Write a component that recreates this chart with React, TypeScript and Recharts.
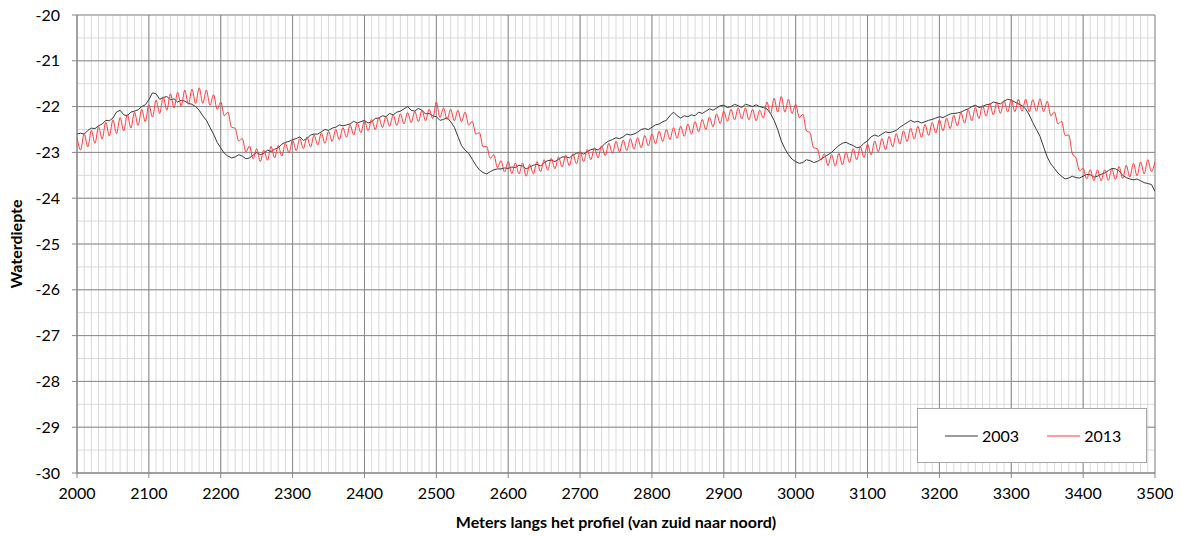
import React from "react";
import {
  LineChart,
  Line,
  XAxis,
  YAxis,
  CartesianGrid,
  Legend,
} from "recharts";

// 2003 survey, one value every 5 m (2000 .. 3500)
const depth2003 = [
  -22.6, -22.58, -22.6, -22.52, -22.47, -22.48, -22.42, -22.38, -22.3, -22.31, -22.25, -22.12, -22.08, -22.18, -22.2, -22.12, -22.1, -22.07, -22.0, -21.96,
  -21.85, -21.7, -21.72, -21.84, -21.8, -21.78, -21.85, -21.83, -21.9, -21.86, -21.88, -21.93, -21.95, -22.0, -22.08, -22.2, -22.3, -22.45, -22.6, -22.78,
  -22.9, -23.02, -23.08, -23.12, -23.1, -23.05, -23.08, -23.14, -23.12, -23.06, -23.0, -23.05, -23.02, -22.95, -22.98, -22.93, -22.9, -22.82, -22.78, -22.76,
  -22.72, -22.7, -22.66, -22.74, -22.7, -22.62, -22.6, -22.6, -22.55, -22.5, -22.52, -22.47, -22.45, -22.4, -22.42, -22.4, -22.38, -22.32, -22.36, -22.33,
  -22.3, -22.36, -22.33, -22.26, -22.25, -22.2, -22.22, -22.15, -22.18, -22.12, -22.1, -22.05, -22.0, -22.08, -22.1, -22.04, -22.08, -22.16, -22.15, -22.2,
  -22.22, -22.3, -22.28, -22.24, -22.33, -22.45, -22.65, -22.85, -22.95, -23.02, -23.15, -23.28, -23.38, -23.44, -23.47, -23.42, -23.38, -23.36, -23.36, -23.34,
  -23.35, -23.32, -23.33, -23.28, -23.3, -23.36, -23.32, -23.28, -23.26, -23.3, -23.22, -23.18, -23.17, -23.2, -23.15, -23.1, -23.1, -23.12, -23.06, -23.02,
  -23.0, -23.04, -22.98, -22.94, -22.92, -22.95, -22.88, -22.8, -22.75, -22.72, -22.68, -22.7, -22.66, -22.6, -22.62, -22.6, -22.56, -22.5, -22.48, -22.5,
  -22.45, -22.4, -22.38, -22.33, -22.3, -22.2, -22.12, -22.2, -22.25, -22.2, -22.22, -22.18, -22.2, -22.12, -22.15, -22.1, -22.05, -22.08, -22.03, -21.98,
  -21.97, -22.02, -22.0, -21.95, -21.98, -22.02, -21.95, -21.97, -22.0, -21.96, -22.0, -22.02, -22.05, -22.15, -22.3, -22.5, -22.75, -22.92, -23.05, -23.15,
  -23.2, -23.24, -23.22, -23.16, -23.18, -23.22, -23.2, -23.15, -23.1, -23.05, -23.0, -22.92, -22.85, -22.8, -22.78, -22.82, -22.85, -22.9, -22.88, -22.8,
  -22.75, -22.66, -22.62, -22.65, -22.6, -22.55, -22.57, -22.55, -22.52, -22.45, -22.4, -22.35, -22.3, -22.34, -22.32, -22.36, -22.33, -22.3, -22.28, -22.25,
  -22.22, -22.24, -22.2, -22.16, -22.15, -22.14, -22.12, -22.08, -22.05, -22.0, -21.97, -22.02, -22.0, -21.96, -21.95, -21.9, -21.92, -21.94, -21.88, -21.84,
  -21.86, -21.9, -21.94, -21.98, -22.05, -22.18, -22.35, -22.5, -22.65, -22.88, -23.1, -23.25, -23.35, -23.45, -23.52, -23.58, -23.56, -23.52, -23.55, -23.56,
  -23.52, -23.48, -23.49, -23.54, -23.52, -23.48, -23.45, -23.4, -23.35, -23.36, -23.4, -23.5, -23.55, -23.58, -23.6, -23.58, -23.62, -23.66, -23.68, -23.7,
  -23.85,
];

// 2013 survey, one value every 5 m (2000 .. 3500)
const depth2013 = [
  -22.66, -22.95, -22.59, -22.88, -22.52, -22.8, -22.44, -22.71, -22.34, -22.64, -22.29, -22.59, -22.24, -22.53, -22.17, -22.47, -22.12, -22.41, -22.06, -22.33,
  -21.96, -22.23, -21.86, -22.15, -21.79, -22.08, -21.72, -22.03, -21.69, -21.99, -21.64, -21.95, -21.62, -21.93, -21.59, -21.93, -21.64, -21.97, -21.74, -22.06,
  -21.9, -22.2, -22.12, -22.45, -22.47, -22.75, -22.7, -22.99, -22.86, -23.14, -22.92, -23.2, -22.95, -23.17, -22.87, -23.12, -22.85, -23.08, -22.8, -23.01,
  -22.73, -22.96, -22.7, -22.92, -22.66, -22.88, -22.62, -22.84, -22.58, -22.8, -22.54, -22.76, -22.5, -22.72, -22.46, -22.67, -22.4, -22.62, -22.36, -22.57,
  -22.3, -22.53, -22.28, -22.5, -22.24, -22.46, -22.21, -22.43, -22.18, -22.41, -22.16, -22.38, -22.13, -22.35, -22.1, -22.33, -22.08, -22.31, -22.06, -22.26,
  -21.9, -22.24, -22.03, -22.28, -22.06, -22.31, -22.08, -22.33, -22.12, -22.4, -22.32, -22.6, -22.57, -22.88, -22.87, -23.13, -23.05, -23.33, -23.18, -23.43,
  -23.2, -23.46, -23.23, -23.47, -23.23, -23.52, -23.26, -23.47, -23.2, -23.42, -23.16, -23.39, -23.13, -23.36, -23.1, -23.32, -23.06, -23.29, -23.03, -23.25,
  -22.98, -23.2, -22.94, -23.16, -22.9, -23.12, -22.86, -23.07, -22.8, -23.02, -22.76, -22.99, -22.73, -22.96, -22.7, -22.93, -22.68, -22.9, -22.63, -22.86,
  -22.6, -22.81, -22.54, -22.76, -22.5, -22.72, -22.46, -22.69, -22.43, -22.65, -22.38, -22.6, -22.33, -22.55, -22.28, -22.5, -22.23, -22.44, -22.16, -22.37,
  -22.1, -22.32, -22.06, -22.29, -22.03, -22.27, -22.03, -22.29, -22.06, -22.31, -22.08, -22.25, -21.9, -22.16, -21.82, -22.12, -21.78, -22.12, -21.84, -22.15,
  -21.95, -22.24, -22.17, -22.53, -22.57, -22.9, -22.92, -23.17, -23.03, -23.29, -23.05, -23.3, -23.02, -23.27, -22.99, -23.22, -22.92, -23.16, -22.87, -23.11,
  -22.82, -23.05, -22.75, -22.99, -22.7, -22.94, -22.65, -22.88, -22.59, -22.82, -22.53, -22.76, -22.47, -22.71, -22.43, -22.67, -22.39, -22.63, -22.35, -22.58,
  -22.29, -22.53, -22.25, -22.48, -22.19, -22.42, -22.13, -22.36, -22.07, -22.31, -22.02, -22.26, -21.97, -22.21, -21.93, -22.18, -21.91, -22.15, -21.87, -22.12,
  -21.85, -22.11, -21.84, -22.1, -21.84, -22.11, -21.85, -22.1, -21.83, -22.11, -21.88, -22.2, -22.12, -22.38, -22.32, -22.63, -22.62, -23.03, -23.12, -23.4,
  -23.35, -23.58, -23.38, -23.62, -23.38, -23.62, -23.38, -23.61, -23.36, -23.59, -23.31, -23.57, -23.28, -23.54, -23.24, -23.51, -23.21, -23.47, -23.16, -23.42,
  -23.2,
];

const xTicks = [2000, 2100, 2200, 2300, 2400, 2500, 2600, 2700, 2800, 2900, 3000, 3100, 3200, 3300, 3400, 3500];
const yTicks = [-30, -29, -28, -27, -26, -25, -24, -23, -22, -21, -20];

// light grid: every 10 m and every 0.5 m depth
const xMinorTicks = Array.from({ length: 151 }, (_, i) => 2000 + i * 10);
const yMinorTicks = Array.from({ length: 21 }, (_, i) => -30 + i * 0.5);

const series2003 = depth2003.map((d, i) => ({ x: 2000 + i * 5, y: d }));
const series2013 = depth2013.map((d, i) => ({ x: 2000 + i * 5, y: d }));

const FONT = "Lato, 'Liberation Sans', sans-serif";

const LegendBox = ({ payload }: any) => (
  <div
    style={{
      boxSizing: "border-box",
      width: 230,
      height: 55,
      border: "1px solid #a6a6a6",
      background: "#fff",
      display: "flex",
      alignItems: "center",
      paddingLeft: 27,
      fontFamily: FONT,
      fontSize: 16,
      color: "#000",
    }}>
    {(payload || []).map((p: any, i: number) => (
      <div key={i} style={{ display: "flex", alignItems: "center", marginRight: i === 0 ? 28 : 0 }}>
        <svg width={33} height={4} style={{ marginRight: 4 }}>
          <line x1={0} y1={2} x2={33} y2={2} stroke={p.color} strokeWidth={1} />
        </svg>
        <span>{p.value}</span>
      </div>
    ))}
  </div>
);

const App = () => {
  return (
    <div style={{ fontFamily: FONT, marginTop: -8, marginLeft: -8 }}>
      <LineChart width={1181} height={537} margin={{ top: 15, right: 26, bottom: 0, left: 0 }}>
        <CartesianGrid
          stroke="#d9d9d9"
          strokeWidth={1}
          verticalValues={xMinorTicks}
          horizontalValues={yMinorTicks}
        />
        <CartesianGrid stroke="#8a8a8a" strokeWidth={1} />
        <XAxis
          dataKey="x"
          type="number"
          domain={[2000, 3500]}
          ticks={xTicks}
          interval={0}
          allowDataOverflow
          height={64}
          tickSize={5}
          tickMargin={10}
          stroke="#868686"
          tick={{ fill: "#000", fontSize: 16, fontFamily: FONT }}
          label={{
            value: "Meters langs het profiel (van zuid naar noord)",
            position: "insideBottom",
            offset: 9,
            style: { fontWeight: "bold", fontSize: 16, fill: "#000", fontFamily: FONT },
          }}
        />
        <YAxis
          type="number"
          domain={[-30, -20]}
          ticks={yTicks}
          interval={0}
          allowDataOverflow
          width={77}
          tickSize={5}
          tickMargin={12}
          stroke="#868686"
          tick={{ fill: "#000", fontSize: 16, fontFamily: FONT }}
          label={({ viewBox }: any) => (
            <text
              x={viewBox.x + 15}
              y={viewBox.y + viewBox.height / 2}
              transform={`rotate(-90, ${viewBox.x + 15}, ${viewBox.y + viewBox.height / 2})`}
              textAnchor="middle"
              dominantBaseline="central"
              style={{ fontWeight: "bold", fontSize: 16, fill: "#000", fontFamily: FONT }}>
              Waterdiepte
            </text>
          )}
        />
        <Legend
          layout="horizontal"
          verticalAlign="middle"
          content={<LegendBox />}
          wrapperStyle={{ left: 917, top: 408, width: 230, height: 55 }}
        />
        <Line
          data={series2003}
          dataKey="y"
          name="2003"
          type="linear"
          stroke="#3a3a3a"
          strokeWidth={1}
          dot={false}
          activeDot={false}
          isAnimationActive={false}
        />
        <Line
          data={series2013}
          dataKey="y"
          name="2013"
          type="monotone"
          stroke="#ff3a3a"
          strokeWidth={1}
          dot={false}
          activeDot={false}
          isAnimationActive={false}
        />
      </LineChart>
    </div>
  );
};

export default App;
